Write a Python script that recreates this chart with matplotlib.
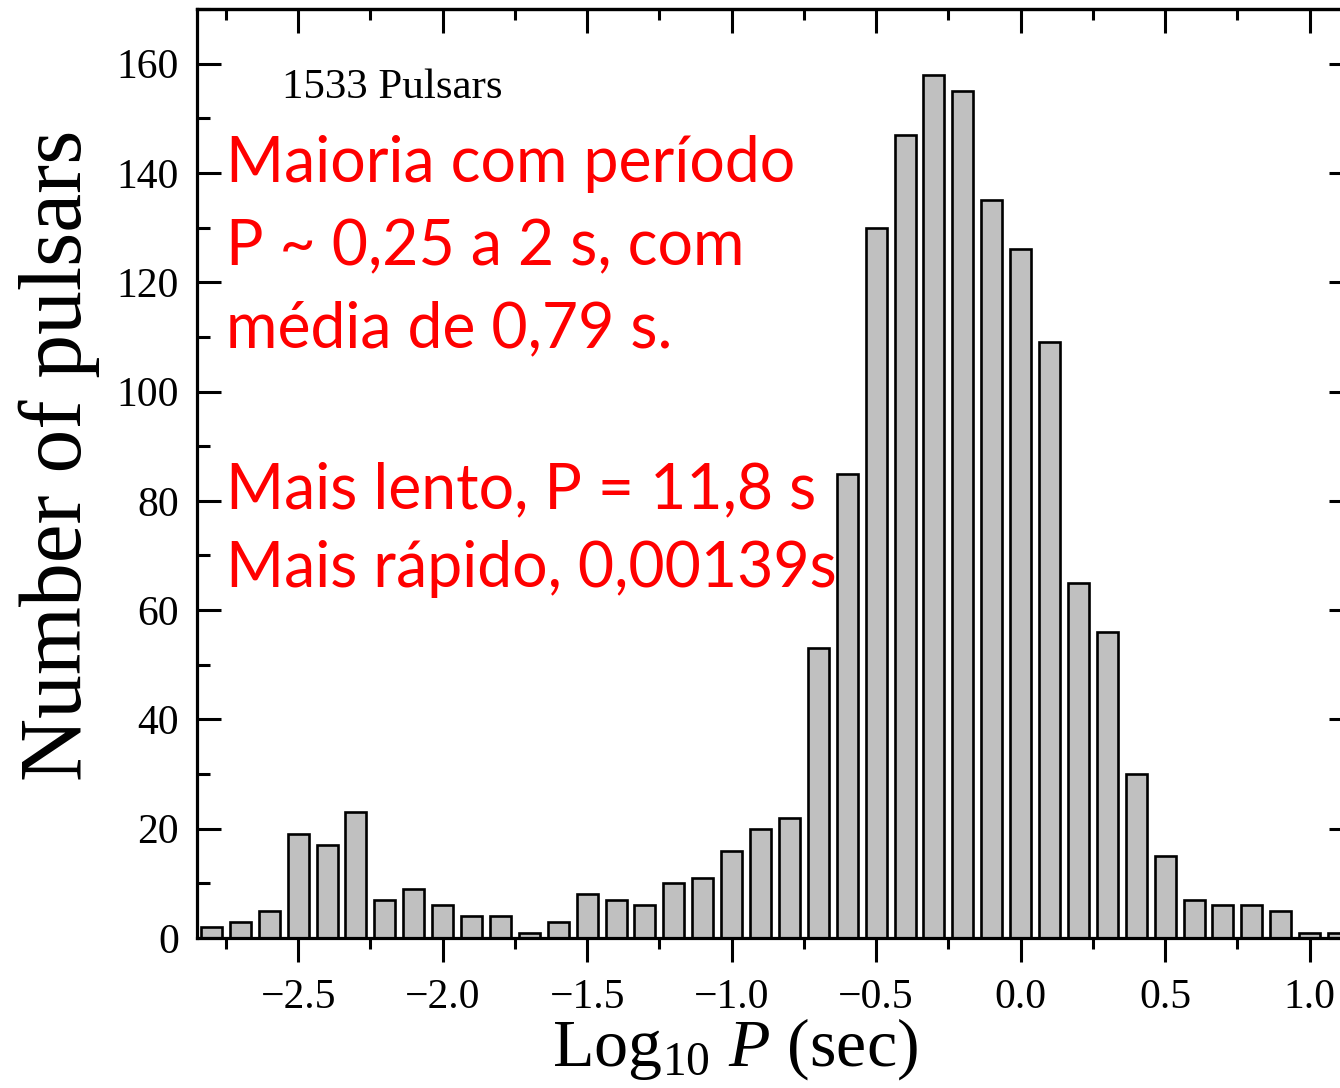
import matplotlib
matplotlib.use("Agg")
import matplotlib.pyplot as plt
from matplotlib.ticker import MultipleLocator

# ---- data ----
bin_centers = [-2.8, -2.7, -2.6, -2.5, -2.4, -2.3, -2.2, -2.1, -2.0, -1.9,
               -1.8, -1.7, -1.6, -1.5, -1.4, -1.3, -1.2, -1.1, -1.0, -0.9,
               -0.8, -0.7, -0.6, -0.5, -0.4, -0.3, -0.2, -0.1, 0.0, 0.1,
               0.2, 0.3, 0.4, 0.5, 0.6, 0.7, 0.8, 0.9, 1.0, 1.1]
counts = [2, 3, 5, 19, 17, 23, 7, 9, 6, 4,
          4, 1, 3, 8, 7, 6, 10, 11, 16, 20,
          22, 53, 85, 130, 147, 158, 155, 135, 126, 109,
          65, 56, 30, 15, 7, 6, 6, 5, 1, 1]
x_major_ticks = [-2.5, -2.0, -1.5, -1.0, -0.5, 0.0, 0.5, 1.0]
y_major_ticks = [0, 20, 40, 60, 80, 100, 120, 140, 160]

title_text = "1533 Pulsars"
annotation_lines = ["Maioria com período",
                    "P ~ 0,25 a 2 s, com",
                    "média de 0,79 s.",
                    "Mais lento, P = 11,8 s",
                    "Mais rápido, 0,00139s"]
annotation_baselines_px = [182, 265, 347, 508, 587]

# ---- style ----
plt.rcParams['mathtext.fontset'] = 'custom'
plt.rcParams['mathtext.rm'] = 'Liberation Serif'
plt.rcParams['mathtext.it'] = 'Liberation Serif:italic'
plt.rcParams['font.family'] = ['Liberation Serif', 'DejaVu Sans']

W, H = 1340, 1088
fig = plt.figure(figsize=(W / 100, H / 100), dpi=100)


def px(x, y):
    return x / W, 1 - y / H


left, right, top, bottom = 197, 1353, 9, 938
ax = fig.add_axes([left / W, 1 - bottom / H, (right - left) / W, (bottom - top) / H])

ax.bar(bin_centers, counts, width=0.073, color='#c0c0c0',
       edgecolor='black', linewidth=1.9)

ax.set_xlim(-2.85, 1.15)
ax.set_ylim(0, 170)

ax.xaxis.set_major_locator(MultipleLocator(0.5))
ax.xaxis.set_minor_locator(MultipleLocator(0.25))
ax.yaxis.set_major_locator(MultipleLocator(20))
ax.yaxis.set_minor_locator(MultipleLocator(10))
ax.set_xticks(x_major_ticks)
ax.set_yticks(y_major_ticks)
ax.set_xticklabels([f"{v:.1f}".replace("-", "\u2212") for v in x_major_ticks])
ax.set_yticklabels([str(v) for v in y_major_ticks])

for s in ax.spines.values():
    s.set_linewidth(2.3)

ax.tick_params(axis='x', which='both', bottom=True, top=False, direction='out',
               labelsize=30, pad=12, width=2.2)
ax.tick_params(axis='x', which='major', length=17)
ax.tick_params(axis='x', which='minor', length=8)
ax.tick_params(axis='y', which='both', left=True, right=True, direction='in',
               labelsize=30, pad=13, width=2.2)
ax.tick_params(axis='y', which='major', length=17)
ax.tick_params(axis='y', which='minor', length=9)

# top inward ticks via secondary axis
sec = ax.secondary_xaxis('top')
sec.xaxis.set_major_locator(MultipleLocator(0.5))
sec.xaxis.set_minor_locator(MultipleLocator(0.25))
sec.tick_params(axis='x', which='both', direction='in', labeltop=False, width=2.2)
sec.tick_params(axis='x', which='major', length=17)
sec.tick_params(axis='x', which='minor', length=8)
sec.spines['top'].set_linewidth(2.3)

# labels
fig.text(*px(59, 455), "Number of pulsars", rotation=90, ha='center', va='center',
         fontsize=63, family='Liberation Serif')
fig.text(*px(735, 1066), r"Log$_{10}$ $P$ (sec)", ha='center', va='baseline',
         fontsize=49, family='Liberation Serif')
fig.text(*px(282, 98), title_text, ha='left', va='baseline', fontsize=31,
         family='Liberation Serif')

for line, yb in zip(annotation_lines, annotation_baselines_px):
    fig.text(*px(226, yb), line, ha='left', va='baseline', fontsize=45,
             color='#ff0000', family=['Lato', 'DejaVu Sans'])

fig.savefig("out.png", dpi=100)
